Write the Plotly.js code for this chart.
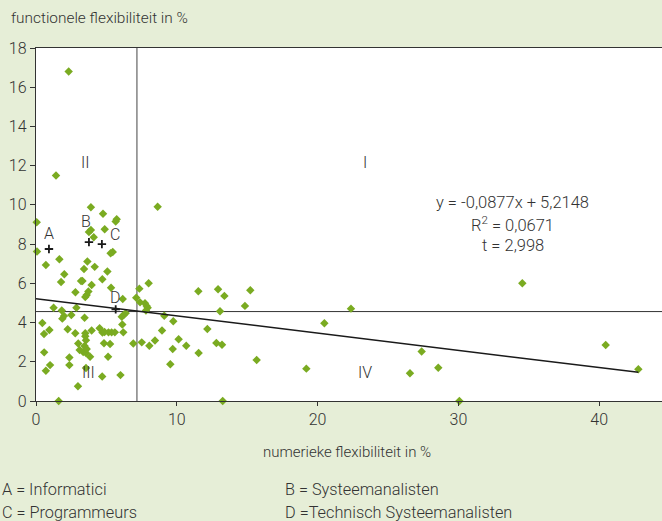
<!DOCTYPE html>
<html>
<head>
<meta charset="utf-8">
<script src="https://cdn.plot.ly/plotly-3.0.1.min.js"></script>
<style>
html,body{margin:0;padding:0;background:#e6eed7;}
#chart{width:662px;height:521px;}
</style>
</head>
<body>
<div id="chart"></div>
<script>
// numerieke flexibiliteit (x) and functionele flexibiliteit (y), in %
const numX = [2.32,1.42,8.64,3.9,4.76,5.73,5.66,0.05,3.9,3.76,4.88,4.1,0.07,5.45,5.3,1.66,0.7,3.65,3.41,4.17,
  5.07,2.01,4.71,3.2,3.3,1.78,3.95,5.33,2.8,3.72,3.6,3.5,6.16,7.34,8.0,7.12,7.39,7.74,7.86,7.93,
  7.81,1.25,2.87,1.83,1.99,1.87,2.51,3.45,6.23,6.37,6.09,0.45,6.13,0.95,0.57,2.25,2.79,3.5,3.5,3.55,
  3.95,4.52,4.72,4.87,5.15,5.37,5.6,6.2,3.0,3.45,4.83,5.26,6.91,0.58,3.1,3.35,3.55,3.6,2.37,3.84,
  5.12,1.0,0.7,2.37,3.55,4.7,6.0,2.98,1.61,7.51,8.05,8.45,9.11,9.75,8.95,10.13,9.71,10.67,9.54,11.53,
  11.55,12.17,12.93,13.38,13.07,12.81,13.21,14.84,15.22,15.67,13.26,34.54,22.37,20.48,19.2,26.56,27.39,28.57,30.07,40.46,
  42.78];
const funcY = [16.8,11.5,9.9,9.88,9.55,9.27,9.15,9.12,8.72,8.62,8.76,8.35,7.62,7.6,7.53,7.23,6.93,7.11,6.73,6.84,
  6.6,6.46,6.21,6.12,6.12,6.07,5.92,5.78,5.55,5.58,5.4,5.3,5.2,5.73,6.0,5.27,5.03,4.98,4.85,4.75,
  4.61,4.76,4.76,4.61,4.34,4.2,4.39,4.24,4.39,4.48,4.3,3.98,3.9,3.62,3.42,3.66,3.46,3.45,3.3,3.1,
  3.59,3.71,3.49,3.52,3.5,3.5,3.5,3.5,2.93,2.8,2.94,2.91,2.93,2.48,2.6,2.5,2.45,2.65,2.22,2.26,
  2.26,1.83,1.54,1.83,1.68,1.25,1.32,0.75,0.0,2.99,2.82,3.08,4.35,4.07,3.59,3.15,2.65,2.82,1.87,5.6,
  2.45,3.67,5.7,5.36,4.58,2.96,2.87,4.85,5.65,2.09,0.0,6.0,4.71,3.96,1.65,1.41,2.52,1.7,0.0,2.86,
  1.62];

// highlighted occupations
const groupLabels = ["A","B","C","D"];
const groupX = [0.92,3.76,4.68,5.66];
const groupY = [7.75,8.1,8.0,4.67];
const groupLabelX = [0.92,3.55,5.61,5.61];
const groupLabelY = [8.52,9.13,8.47,5.26];

// regression line end points and quadrant split values
const trendX = [0,42.78];
const trendY = [5.2148,1.463];
const splitX = [7.17];
const splitY = [4.56];

const quadLabels = ["I","II","III","IV"];
const quadX = [23.37,3.48,3.7,23.37];
const quadY = [12.14,12.14,1.43,1.43];

const eqLines = ["y = -0,0877x + 5,2148","R<sup>2</sup> = 0,0671","t = 2,998"];
const legendTexts = ["A = Informatici","B = Systeemanalisten","C = Programmeurs","D =Technisch Systeemanalisten"];

const xTicks = [0,10,20,30,40];
const yTicks = [0,2,4,6,8,10,12,14,16,18];

const FONT = "Roboto, 'Liberation Sans', sans-serif";
const TXT = "#333333";
const W = 300;
const xMax = 44.46;

const traces = [
  {x:[splitX[0],splitX[0]], y:[0,18], mode:"lines", line:{color:"#444",width:1}, hoverinfo:"skip", showlegend:false},
  {x:[0,xMax], y:[splitY[0],splitY[0]], mode:"lines", line:{color:"#333",width:1}, hoverinfo:"skip", showlegend:false},
  {x:numX, y:funcY, mode:"markers", type:"scatter",
   marker:{symbol:"diamond", size:6.5, color:"#7aab21"}, showlegend:false, cliponaxis:false},
  {x:trendX, y:trendY, mode:"lines", line:{color:"#1a1a1a",width:1.5}, showlegend:false},
  {x:groupX, y:groupY, mode:"markers", marker:{symbol:"cross-thin", size:6, color:"#1a1a1a", line:{color:"#1a1a1a",width:1.8}}, showlegend:false}
];

const f = (s)=>({family:FONT,size:s,color:TXT,weight:W});
const ann = [];
groupLabels.forEach((t,i)=>ann.push({x:groupLabelX[i], y:groupLabelY[i], text:t, showarrow:false, font:f(16)}));
quadLabels.forEach((t,i)=>ann.push({x:quadX[i], y:quadY[i], text:t, showarrow:false, font:f(16)}));
eqLines.forEach((t,i)=>ann.push({x:33.85, y:10.1 - i*1.09, text:t, showarrow:false, font:f(16.5)}));
ann.push({xref:"paper", yref:"paper", x:-0.043, y:1.085, xanchor:"left", yanchor:"middle", text:"functionele flexibiliteit in %", showarrow:false, font:f(15.4)});
ann.push({xref:"paper", yref:"paper", x:0.497, y:-0.1445, xanchor:"center", yanchor:"middle", text:"numerieke flexibiliteit in %", showarrow:false, font:f(15)});
const legX = [-0.0575,0.3946,-0.0575,0.3946];
const legY = [-0.252,-0.252,-0.317,-0.317];
legendTexts.forEach((t,i)=>ann.push({xref:"paper", yref:"paper", x:legX[i], y:legY[i], xanchor:"left", yanchor:"middle", text:t, showarrow:false, font:f(16.3)}));

const layout = {
  width:662, height:521,
  margin:{l:36, r:0, t:48, b:120},
  paper_bgcolor:"#e6eed7", plot_bgcolor:"#ffffff",
  showlegend:false,
  xaxis:{range:[0,xMax], tickvals:xTicks, ticks:"outside", ticklen:4, tickcolor:"#333", showline:true, linecolor:"#333", linewidth:1.2,
         mirror:true, showgrid:false, zeroline:false, tickfont:f(16)},
  yaxis:{range:[0,18], tickvals:yTicks, ticks:"outside", ticklen:5, tickcolor:"#333", showline:true, linecolor:"#333", linewidth:1.2,
         showgrid:false, zeroline:false, tickfont:f(16)},
  annotations:ann
};

Plotly.newPlot("chart", traces, layout, {displayModeBar:false, staticPlot:true});
</script>
</body>
</html>
